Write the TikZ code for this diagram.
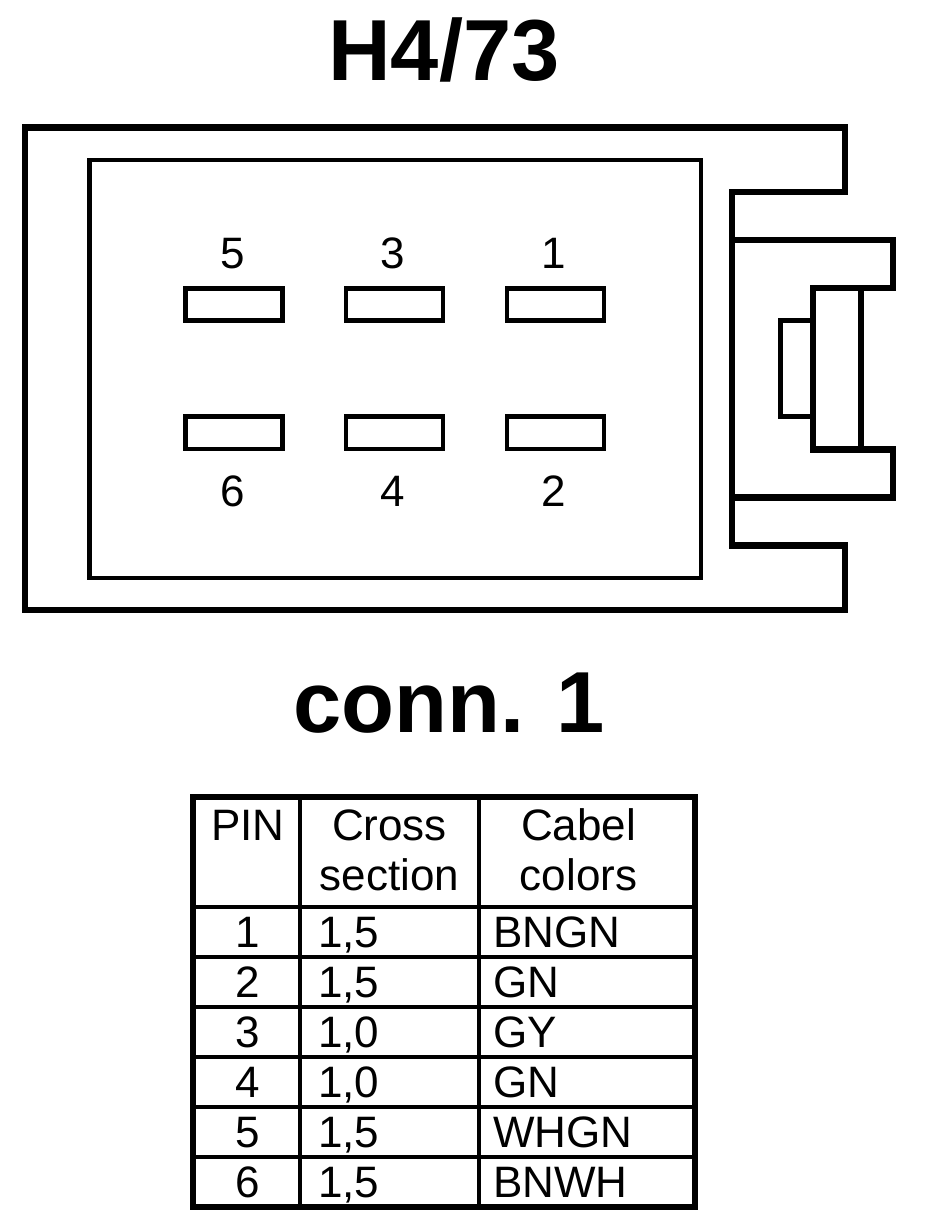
\documentclass[tikz,border=0pt]{standalone}
\usepackage{fontspec}
\setmainfont{Liberation Sans}
\tikzset{
  px/.style={x=0.75pt,y=-0.75pt},
  heavy/.style={draw=black,line width=5pt,line join=miter,line cap=butt},
  medium/.style={draw=black,line width=3.3pt,line join=miter,line cap=butt},
  latchline/.style={draw=black,line width=4.4pt,line join=miter,line cap=butt},
  titletext/.style={inner sep=0pt,anchor=base,font=\bfseries\fontsize{65}{65}\selectfont},
  pintext/.style={inner sep=0pt,anchor=base,font=\fontsize{33}{33}\selectfont},
  celltext/.style={inner sep=0pt,anchor=base,font=\fontsize{33}{33}\selectfont},
  leftcell/.style={celltext,anchor=base west},
}
\begin{document}
\begin{tikzpicture}[px]
\useasboundingbox (0,0) rectangle (928,1224);
% titles
\node[titletext] (title) at (444,80) {H4/73};
\node[titletext] (conn) at (449,732) {conn. 1};
% housing
\draw[heavy] (845,192) -- (845,127.5) -- (25,127.5) -- (25,610) -- (845,610) -- (845,545.5) -- (732,545.5) -- (732,192) -- cycle;
\draw[medium] (89.3,160) rectangle (701,578);
% latch
\draw[heavy] (732,240) -- (893,240) -- (893,288) -- (813,288) -- (813,449.5) -- (893,449.5) -- (893,497.5) -- (732,497.5);
\draw[latchline] (861,288) -- (861,449.5);
\draw[latchline] (813,320.5) -- (780.5,320.5) -- (780.5,416.5) -- (813,416.5);
% contacts
\foreach \cx in {185.5,346,507}{
  \draw[medium] (\cx,288.3) rectangle (\cx+97,320.5);
  \draw[medium] (\cx,416.5) rectangle (\cx+97,448.7);
}
\node[pintext] (p5) at (232.5,268) {5};
\node[pintext] (p3) at (392.5,268) {3};
\node[pintext] (p1) at (553.5,268) {1};
\node[pintext] (p6) at (232.5,506) {6};
\node[pintext] (p4) at (392.5,506) {4};
\node[pintext] (p2) at (553.5,506) {2};
% table
\draw[heavy] (193,797) rectangle (695,1207);
\draw[medium] (300,797) -- (300,1207);
\draw[medium] (479,797) -- (479,1207);
\foreach \ry in {907,957,1007,1057,1107,1157}{
  \draw[medium] (193,\ry) -- (695,\ry);
}
\node[celltext] (hpin) at (248,840) {PIN};
\node[celltext] (hcross) at (389.5,840) {Cross};
\node[celltext] (hsection) at (389.5,890) {section};
\node[celltext] (hcabel) at (578.5,840) {Cabel};
\node[celltext] (hcolors) at (578.5,890) {colors};
\node[celltext] (r1) at (247.5,947) {1};
\node[celltext] (r2) at (247.5,997) {2};
\node[celltext] (r3) at (247.5,1047) {3};
\node[celltext] (r4) at (247.5,1097) {4};
\node[celltext] (r5) at (247.5,1147) {5};
\node[celltext] (r6) at (247.5,1197) {6};
\node[leftcell] (c1) at (318,947) {1,5};
\node[leftcell] (c2) at (318,997) {1,5};
\node[leftcell] (c3) at (318,1047) {1,0};
\node[leftcell] (c4) at (318,1097) {1,0};
\node[leftcell] (c5) at (318,1147) {1,5};
\node[leftcell] (c6) at (318,1197) {1,5};
\node[leftcell] (k1) at (493,947) {BNGN};
\node[leftcell] (k2) at (493,997) {GN};
\node[leftcell] (k3) at (493,1047) {GY};
\node[leftcell] (k4) at (493,1097) {GN};
\node[leftcell] (k5) at (493,1147) {WHGN};
\node[leftcell] (k6) at (493,1197) {BNWH};
\end{tikzpicture}
\end{document}
